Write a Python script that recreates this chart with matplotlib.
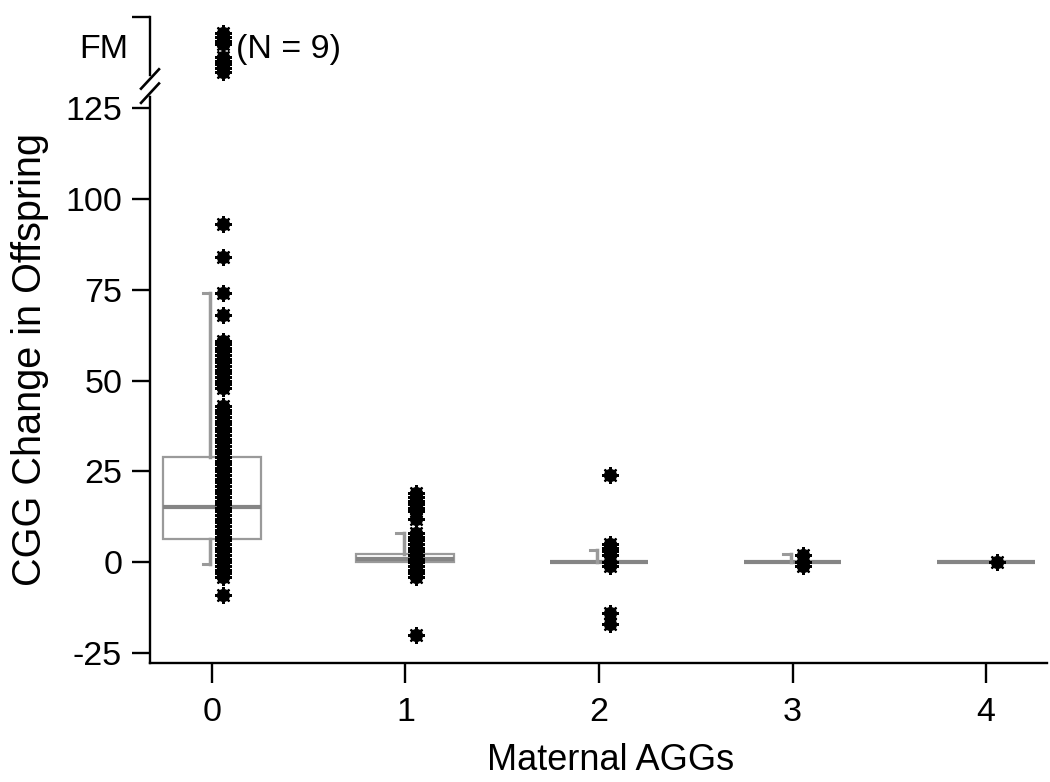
import matplotlib
matplotlib.use("Agg")
import matplotlib.pyplot as plt
from matplotlib.patches import Rectangle
from matplotlib import font_manager

# ---------------- data ----------------
categories = [0, 1, 2, 3, 4]
x_tick_labels = ["0", "1", "2", "3", "4"]
y_ticks = [-25, 0, 25, 50, 75, 100, 125]
y_tick_labels = ["-25", "0", "25", "50", "75", "100", "125"]

points_g0 = [93, 84, 74, 68,
             61, 60, 59, 58, 57, 56, 55, 54, 53, 52, 51, 50, 49, 48,
             43, 42, 41, 40, 39, 38, 37, 36, 35, 34, 33, 32, 31, 30, 29, 28,
             27, 26, 25, 24, 23, 22, 21, 20, 19, 18, 17, 16, 15, 14, 13, 12,
             11, 10, 9, 8, 7, 6, 5, 4, 3, 2, 1, 0, -1, -2, -3, -4, -9]
points_g1 = [19, 18, 17, 16, 15, 14, 12, 8, 7, 6, 5, 4, 3, 2, 1, 0,
             -1, -2, -3, -4, -20]
points_g2 = [24, 5, 4, 3, 2, 0, -1, -14, -17]
points_g3 = [2, 0, -1]
points_g4 = [0]
group_points = [points_g0, points_g1, points_g2, points_g3, points_g4]

# full-mutation offspring (plotted above the axis break)
fm_points = [145.5, 144.5, 143.5, 142.5, 139, 138, 137, 136, 135]
fm_label = "FM"
fm_n_label = "(N = 9)"

# box statistics
box_q1 = [6.3, 0, 0, 0, 0]
box_median = [15.2, 0.8, 0, 0, 0]
box_q3 = [29, 2.4, 0, 0, 0]
whisker_low = [-0.5, 0, 0, 0, 0]
whisker_high = [74, 8, 3.5, 2.2, 0]

x_label = "Maternal AGGs"
y_label = "CGG Change in Offspring"

# ---------------- style ----------------
avail = {f.name for f in font_manager.fontManager.ttflist}
fam = ["Liberation Sans Narrow", "Liberation Sans", "DejaVu Sans"]
fam = [f for f in fam if f in avail] or ["DejaVu Sans"]
plt.rcParams["font.family"] = fam

box_color = "#9a9a9a"
med_color = "#858585"
fs = 24.5

fig = plt.figure(figsize=(10.5, 7.82), dpi=100)
ax = fig.add_axes([150 / 1050, 1 - 663 / 782, (1047 - 150) / 1050, (663 - 17) / 782])

box_w = 0.253
pt_off = 0.055
wh_off = -0.01
cap_len = 0.037

for i, c in enumerate(categories):
    # box
    ax.add_patch(Rectangle((c - box_w, box_q1[i]), 2 * box_w, box_q3[i] - box_q1[i],
                           fill=False, edgecolor=box_color, lw=1.6, zorder=2))
    ax.plot([c - box_w, c + box_w], [box_median[i]] * 2, color=med_color,
            lw=3.0, zorder=2, solid_capstyle="butt")
    # whiskers with half caps
    if whisker_high[i] > box_q3[i]:
        ax.plot([c + wh_off] * 2, [box_q3[i], whisker_high[i]], color=box_color, lw=2.5, zorder=2)
        ax.plot([c + wh_off - cap_len, c + wh_off], [whisker_high[i]] * 2, color=box_color, lw=2.2, zorder=2)
    if whisker_low[i] < box_q1[i]:
        ax.plot([c + wh_off] * 2, [box_q1[i], whisker_low[i]], color=box_color, lw=2.5, zorder=2)
        ax.plot([c + wh_off - cap_len, c + wh_off], [whisker_low[i]] * 2, color=box_color, lw=2.2, zorder=2)
    # points
    pts = group_points[i]
    xs = [c + pt_off] * len(pts)
    ax.plot(xs, pts, linestyle="none", marker="o", markersize=8.5, color="black", zorder=3)
    ax.plot(xs, pts, linestyle="none", marker=(8, 2, 0), markersize=12,
            markeredgewidth=1.6, color="black", zorder=3)

# FM points
xs = [categories[0] + pt_off] * len(fm_points)
ax.plot(xs, fm_points, linestyle="none", marker="o", markersize=8.5, color="black", zorder=3, clip_on=False)
ax.plot(xs, fm_points, linestyle="none", marker=(8, 2, 0), markersize=12,
        markeredgewidth=1.6, color="black", zorder=3, clip_on=False)
ax.text(categories[0] + 0.125, 141.0, fm_n_label, fontsize=fs, va="center", ha="left")

ax.set_xlim(-0.32, 4.315)
ax.set_ylim(-27.7, 150)

ax.set_xticks(categories)
ax.set_xticklabels(x_tick_labels, fontsize=fs)
ax.set_yticks(y_ticks + [150])
ax.set_yticklabels(y_tick_labels + [""], fontsize=fs)
ax.text(-0.434, 141.0, fm_label, fontsize=fs, va="center", ha="right")

for s in ["top", "right"]:
    ax.spines[s].set_visible(False)
for s in ["left", "bottom"]:
    ax.spines[s].set_linewidth(1.7)

ax.tick_params(axis="y", length=13, width=1.7, pad=7)
ax.tick_params(axis="x", length=14.5, width=1.7, pad=10)

ax.set_xlabel(x_label, fontsize=26)
ax.xaxis.set_label_coords((611 - 150) / (1047 - 150), -0.124)
ax.set_ylabel(y_label, fontsize=28.5)
ax.yaxis.set_label_coords((49 - 150) / (1047 - 150), (663 - 360) / (663 - 17))

# axis break marks
trans = ax.transAxes
by = (131 - (-27.7)) / (150 - (-27.7))
gap = 0.011
ax.plot([0, 0], [by - gap, by + gap], color="white", lw=4, transform=trans, clip_on=False, zorder=5)
for dy in (-gap, gap):
    ax.plot([-0.010, 0.010], [by + dy - 0.015, by + dy + 0.015], color="black", lw=1.9,
            transform=trans, clip_on=False, zorder=6)

fig.savefig("out.png", dpi=100)
